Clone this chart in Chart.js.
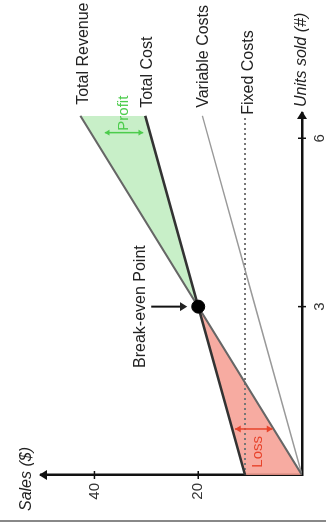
<!DOCTYPE html>
<html>
<head>
<meta charset="utf-8">
<script src="https://cdn.jsdelivr.net/npm/chart.js@4/dist/chart.umd.min.js"></script>
<style>
  body { margin: 0; background: #fff; width: 326px; height: 524px; overflow: hidden; position: relative; }
  #wrap { position: absolute; left: 0; top: 0; width: 524px; height: 326px;
          transform-origin: 0 0; transform: translateY(524px) rotate(-90deg); }
  #frame { position: absolute; left: 0; top: 520px; width: 326px; height: 2px; background: #888; }
</style>
</head>
<body>
<div id="wrap"><canvas id="breakEvenChart" width="524" height="326"></canvas></div>
<div id="frame"></div>
<script>
// units sold along the axis, sales ($) for each line
const units = [0, 3, 6.4];
const totalRevenue = [0, 20, 42.7];
const totalCost = [11, 20, 30.2];
const variableCosts = [0, 9, 19.2];
const fixedCosts = [11, 11, 11];
const breakEven = [3, 20];
const unitTicks = [3, 6];
const salesTicks = [20, 40];

const FONT = "'Liberation Sans', Arial, sans-serif";

function pts(values) {
  return units.map((u, i) => ({ x: u, y: values[i] }));
}

function arrowHead(ctx, x, y, angle, size) {
  ctx.save();
  ctx.translate(x, y);
  ctx.rotate(angle);
  ctx.beginPath();
  ctx.moveTo(0, 0);
  ctx.lineTo(-size * 1.6, -size);
  ctx.lineTo(-size * 1.6, size);
  ctx.closePath();
  ctx.fill();
  ctx.restore();
}

function segment(ctx, x1, y1, x2, y2) {
  ctx.beginPath();
  ctx.moveTo(x1, y1);
  ctx.lineTo(x2, y2);
  ctx.stroke();
}

const decor = {
  id: "decor",
  afterDraw(chart) {
    const { ctx, chartArea: a, scales: { x, y } } = chart;
    const x0 = x.getPixelForValue(0), y0 = y.getPixelForValue(0);
    ctx.save();

    // axis arrows and crossing ticks
    ctx.fillStyle = "#111";
    ctx.strokeStyle = "#111";
    arrowHead(ctx, a.right + 2, y0, 0, 5);
    arrowHead(ctx, x0, a.top - 2, -Math.PI / 2, 5);
    ctx.lineWidth = 1.5;
    unitTicks.forEach(v => { const p = x.getPixelForValue(v); segment(ctx, p, y0 - 4, p, y0 + 4); });
    salesTicks.forEach(v => { const p = y.getPixelForValue(v); segment(ctx, x0 - 4, p, x0 + 4, p); });

    // axis titles
    ctx.font = "italic 16px " + FONT;
    ctx.fillStyle = "#222";
    ctx.textBaseline = "middle";
    ctx.textAlign = "left";
    ctx.fillText("Units sold (#)", a.right + 6, y0);
    ctx.textAlign = "center";
    ctx.fillText("Sales ($)", x0 - 4, a.top - 14);

    // line labels
    ctx.font = "16px " + FONT;
    ctx.textAlign = "left";
    ctx.fillStyle = "#222";
    const last = units.length - 1;
    const ex = x.getPixelForValue(units[last]);
    ctx.fillText("Total Revenue", ex + 11, y.getPixelForValue(totalRevenue[last]) + 3);
    ctx.fillText("Total Cost", ex + 8, y.getPixelForValue(totalCost[last]) + 2);
    ctx.fillText("Variable Costs", ex + 8, y.getPixelForValue(variableCosts[last]) + 1);
    ctx.fillText("Fixed Costs", ex + 1, y.getPixelForValue(fixedCosts[last]) + 4);

    // break-even label and arrow
    const bx = x.getPixelForValue(breakEven[0]), by = y.getPixelForValue(breakEven[1]);
    ctx.textAlign = "center";
    ctx.fillText("Break-even Point", bx, by - 58);
    ctx.lineWidth = 2;
    segment(ctx, bx, by - 47, bx, by - 16);
    arrowHead(ctx, bx, by - 11, Math.PI / 2, 4.5);

    // profit marker
    ctx.strokeStyle = "#4ccc4c";
    ctx.fillStyle = "#4ccc4c";
    ctx.lineWidth = 1.5;
    const px = x.getPixelForValue(6.1);
    const pTop = y.getPixelForValue(38), pBot = y.getPixelForValue(30.6);
    segment(ctx, px, pTop, px, pBot);
    arrowHead(ctx, px, pTop, -Math.PI / 2, 3);
    arrowHead(ctx, px, pBot, Math.PI / 2, 3);
    ctx.font = "15px " + FONT;
    ctx.textAlign = "left";
    ctx.fillText("Profit", px + 2, y.getPixelForValue(34.4));

    // loss marker
    ctx.strokeStyle = "#e8442c";
    ctx.fillStyle = "#e8442c";
    const lx = x.getPixelForValue(0.82);
    const lTop = y.getPixelForValue(12.9), lBot = y.getPixelForValue(5.7);
    segment(ctx, lx, lTop, lx, lBot);
    arrowHead(ctx, lx, lTop, -Math.PI / 2, 3.5);
    arrowHead(ctx, lx, lBot, Math.PI / 2, 3.5);
    ctx.textAlign = "right";
    ctx.fillText("Loss", lx - 7, y.getPixelForValue(8.6));

    ctx.restore();
  }
};

new Chart(document.getElementById("breakEvenChart"), {
  type: "line",
  data: {
    datasets: [
      {
        label: "Break-even Point",
        data: [{ x: breakEven[0], y: breakEven[1] }],
        showLine: false,
        pointRadius: 6.5,
        pointBackgroundColor: "#000",
        pointBorderColor: "#000"
      },
      {
        label: "Total Cost",
        data: pts(totalCost),
        borderColor: "#333",
        borderWidth: 2.5,
        pointRadius: 0,
        fill: false
      },
      {
        label: "Total Revenue",
        data: pts(totalRevenue),
        borderColor: "#666",
        borderWidth: 2,
        pointRadius: 0,
        fill: { target: 1, above: "rgba(190, 236, 190, 0.85)", below: "rgba(246, 156, 144, 0.85)" }
      },
      {
        label: "Variable Costs",
        data: pts(variableCosts),
        borderColor: "#999",
        borderWidth: 1.5,
        pointRadius: 0,
        fill: false
      },
      {
        label: "Fixed Costs",
        data: pts(fixedCosts),
        borderColor: "#777",
        borderWidth: 2,
        borderDash: [2, 3],
        pointRadius: 0,
        fill: false
      }
    ]
  },
  options: {
    responsive: false,
    animation: false,
    devicePixelRatio: 1,
    layout: { padding: { top: 41, right: 113, left: 0, bottom: 0 } },
    plugins: {
      legend: { display: false },
      tooltip: { enabled: false },
      filler: { drawTime: "beforeDatasetsDraw" }
    },
    scales: {
      x: {
        type: "linear",
        min: 0,
        max: 6.45,
        afterFit: s => { s.height = 24; },
        afterBuildTicks: s => { s.ticks = unitTicks.map(v => ({ value: v })); },
        grid: { display: false, drawTicks: false },
        border: { display: true, color: "#111", width: 2.5 },
        ticks: { padding: 9, color: "#333", font: { family: FONT, size: 15 } }
      },
      y: {
        min: 0,
        max: 50.3,
        afterFit: s => { s.width = 49; },
        afterBuildTicks: s => { s.ticks = salesTicks.map(v => ({ value: v })); },
        grid: { display: false, drawTicks: false },
        border: { display: true, color: "#111", width: 2.5 },
        ticks: { padding: 8, color: "#333", font: { family: FONT, size: 15 } }
      }
    }
  },
  plugins: [decor]
});
</script>
</body>
</html>
